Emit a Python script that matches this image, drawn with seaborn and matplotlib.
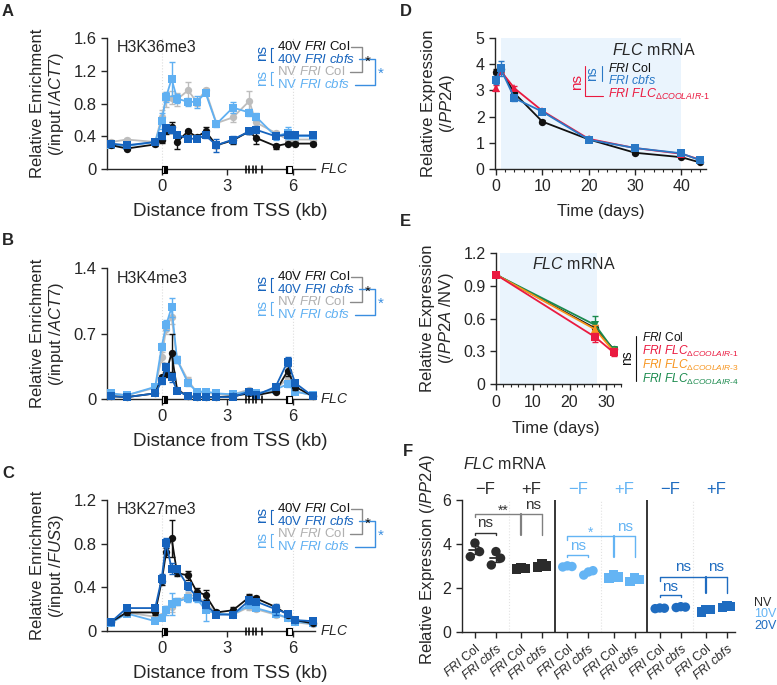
import numpy as np
import pandas as pd
import seaborn as sns
import matplotlib.pyplot as plt
from matplotlib.lines import Line2D
from matplotlib.patches import Rectangle
from matplotlib.ticker import MultipleLocator

sns.set_style('ticks')
plt.rcParams['font.family'] = ['Liberation Sans', 'DejaVu Sans']
plt.rcParams['mathtext.fontset'] = 'custom'
plt.rcParams['mathtext.rm'] = 'Liberation Sans'
plt.rcParams['mathtext.it'] = 'Liberation Sans:italic'
plt.rcParams['mathtext.bf'] = 'Liberation Sans:bold'
plt.rcParams['axes.linewidth'] = 1.0

# ---- data: ChIP panels A-C (distance from TSS, kb) ----
kb = [-2.3, -1.6, -0.3, 0.0, 0.2, 0.45, 0.7, 1.2, 1.6, 2.0, 2.5, 3.25, 4.0, 4.3, 5.2, 5.75, 6.1, 6.9]

# H3K36me3
a_col40 = [0.29, 0.25, 0.30, 0.35, 0.48, 0.51, 0.33, 0.46, 0.39, 0.46, 0.29, 0.35, 0.46, 0.38, 0.28, 0.31, 0.31, 0.31]
a_cbfs40 = [0.31, 0.29, 0.33, 0.40, 0.50, 0.48, 0.42, 0.37, 0.37, 0.41, 0.29, 0.36, 0.46, 0.48, 0.40, 0.42, 0.41, 0.41]
a_colNV = [0.33, 0.36, 0.33, 0.64, 0.85, 0.87, 0.85, 0.96, 0.82, 0.96, 0.56, 0.63, 0.83, 0.57, 0.44, 0.36, 0.36, 0.36]
a_cbfsNV = [0.29, 0.28, 0.33, 0.59, 0.88, 1.10, 0.86, 0.82, 0.82, 0.93, 0.55, 0.75, 0.69, 0.64, 0.40, 0.44, 0.40, 0.40]
a_err_col40 = [0.02, 0.02, 0.02, 0.03, 0.05, 0.07, 0.08, 0.02, 0.02, 0.05, 0.03, 0.04, 0.03, 0.07, 0.03, 0.02, 0.02, 0.02]
a_err_cbfs40 = [0.02, 0.02, 0.02, 0.03, 0.04, 0.04, 0.03, 0.02, 0.02, 0.03, 0.08, 0.04, 0.03, 0.04, 0.03, 0.03, 0.02, 0.02]
a_err_colNV = [0.02, 0.02, 0.02, 0.08, 0.09, 0.08, 0.08, 0.10, 0.05, 0.03, 0.03, 0.06, 0.12, 0.04, 0.03, 0.02, 0.02, 0.02]
a_err_cbfsNV = [0.02, 0.02, 0.02, 0.10, 0.06, 0.21, 0.05, 0.05, 0.07, 0.03, 0.04, 0.07, 0.04, 0.04, 0.04, 0.07, 0.03, 0.02]

# H3K4me3
b_col40 = [0.03, 0.02, 0.06, 0.23, 0.28, 0.49, 0.10, 0.03, 0.02, 0.02, 0.02, 0.03, 0.06, 0.04, 0.08, 0.30, 0.13, 0.03]
b_cbfs40 = [0.03, 0.02, 0.06, 0.19, 0.34, 0.23, 0.09, 0.03, 0.02, 0.02, 0.02, 0.02, 0.08, 0.04, 0.13, 0.40, 0.17, 0.03]
b_colNV = [0.06, 0.04, 0.12, 0.45, 0.75, 0.88, 0.42, 0.20, 0.07, 0.07, 0.05, 0.05, 0.10, 0.06, 0.10, 0.22, 0.08, 0.04]
b_cbfsNV = [0.06, 0.04, 0.13, 0.56, 0.79, 0.98, 0.42, 0.17, 0.08, 0.08, 0.06, 0.05, 0.08, 0.06, 0.10, 0.16, 0.08, 0.04]
b_err_col40 = [0.01, 0.01, 0.01, 0.03, 0.04, 0.20, 0.02, 0.01, 0.01, 0.01, 0.01, 0.01, 0.02, 0.01, 0.02, 0.05, 0.03, 0.01]
b_err_cbfs40 = [0.01, 0.01, 0.01, 0.03, 0.04, 0.05, 0.02, 0.01, 0.01, 0.01, 0.01, 0.01, 0.02, 0.01, 0.02, 0.05, 0.03, 0.01]
b_err_colNV = [0.01, 0.01, 0.02, 0.05, 0.05, 0.08, 0.04, 0.03, 0.01, 0.01, 0.01, 0.01, 0.02, 0.01, 0.02, 0.04, 0.02, 0.01]
b_err_cbfsNV = [0.01, 0.01, 0.02, 0.04, 0.05, 0.10, 0.04, 0.03, 0.01, 0.01, 0.01, 0.01, 0.02, 0.01, 0.02, 0.03, 0.02, 0.01]

# H3K27me3
c_col40 = [0.085, 0.17, 0.17, 0.46, 0.72, 0.85, 0.53, 0.51, 0.36, 0.33, 0.17, 0.19, 0.31, 0.30, 0.22, 0.15, 0.10, 0.07]
c_cbfs40 = [0.085, 0.21, 0.21, 0.48, 0.81, 0.57, 0.57, 0.41, 0.31, 0.24, 0.15, 0.15, 0.28, 0.27, 0.20, 0.16, 0.10, 0.09]
c_colNV = [0.08, 0.17, 0.13, 0.14, 0.20, 0.22, 0.27, 0.33, 0.32, 0.26, 0.16, 0.15, 0.22, 0.20, 0.15, 0.12, 0.08, 0.06]
c_cbfsNV = [0.075, 0.16, 0.09, 0.12, 0.19, 0.25, 0.27, 0.30, 0.30, 0.19, 0.16, 0.15, 0.24, 0.21, 0.16, 0.12, 0.085, 0.07]
c_err_col40 = [0.01, 0.02, 0.02, 0.04, 0.04, 0.17, 0.03, 0.04, 0.03, 0.05, 0.02, 0.03, 0.03, 0.02, 0.02, 0.02, 0.01, 0.01]
c_err_cbfs40 = [0.01, 0.02, 0.02, 0.04, 0.04, 0.05, 0.03, 0.03, 0.03, 0.03, 0.02, 0.02, 0.03, 0.02, 0.05, 0.02, 0.01, 0.01]
c_err_colNV = [0.01, 0.02, 0.02, 0.02, 0.03, 0.05, 0.03, 0.03, 0.03, 0.03, 0.02, 0.02, 0.03, 0.02, 0.02, 0.02, 0.01, 0.01]
c_err_cbfsNV = [0.01, 0.02, 0.02, 0.02, 0.04, 0.10, 0.03, 0.03, 0.03, 0.10, 0.02, 0.02, 0.03, 0.02, 0.02, 0.02, 0.01, 0.01]

# ---- data: D (FLC mRNA time course) ----
d_days = [0, 1, 4, 10, 20, 30, 40, 44]
d_col = [3.71, 3.80, 2.89, 1.81, 1.13, 0.62, 0.45, 0.25]
d_cbfs = [3.40, 3.84, 2.70, 2.19, 1.12, 0.80, 0.60, 0.33]
d_dcool1 = [3.08, 3.75, 3.08, 2.22, 1.15, 0.80, 0.58, 0.36]
d_err_col = [0.10, 0.10, 0.08, 0.05, 0.04, 0.03, 0.03, 0.03]
d_err_cbfs = [0.15, 0.30, 0.10, 0.06, 0.05, 0.04, 0.04, 0.04]
d_err_dcool1 = [0.12, 0.10, 0.08, 0.06, 0.05, 0.04, 0.04, 0.04]

# ---- data: E (normalised to NV) ----
e_days = [0, 27, 32]
e_col = [1.0, 0.51, 0.32]
e_d1 = [1.0, 0.43, 0.29]
e_d3 = [1.0, 0.50, 0.30]
e_d4 = [1.0, 0.54, 0.31]
e_err_col = [0.0, 0.03, 0.02]
e_err_d1 = [0.0, 0.04, 0.03]
e_err_d3 = [0.0, 0.04, 0.03]
e_err_d4 = [0.0, 0.08, 0.03]

# ---- data: F (replicates) ----
f_pos = [0, 1, 2.2, 3.2, 4.4, 5.4, 6.6, 7.6, 8.8, 9.8, 11, 12]
f_vern = ['NV'] * 4 + ['10V'] * 4 + ['20V'] * 4
f_treat = ['-F', '-F', '+F', '+F'] * 3
f_geno = ['Col', 'cbfs'] * 6
f_reps = [[3.42, 4.04, 3.65], [3.04, 3.65, 3.35], [2.85, 2.90, 2.88], [2.95, 3.08, 3.00],
          [2.95, 3.00, 2.97], [2.58, 2.72, 2.78], [2.45, 2.58, 2.50], [2.30, 2.45, 2.38],
          [1.05, 1.08, 1.07], [1.10, 1.14, 1.12], [0.90, 1.00, 1.02], [1.10, 1.18, 1.15]]

BLACK = '#111111'
DBLUE = '#1663bd'
LBLUE = '#60b0f2'
GREY = '#bdbdbd'
D_BLUE = '#2a78c6'
RED = '#ea1a40'
ORANGE = '#f7941d'
GREEN = '#1a8a4d'
SHADE = '#eaf4fd'
HY = '\u2010'

W, H = 777, 685
fig = plt.figure(figsize=(W / 100, H / 100), dpi=100)


def px_axes(l, t, r, b):
    return fig.add_axes([l / W, 1 - b / H, (r - l) / W, (b - t) / H])


def ptext(x, y, s, **kw):
    kw.setdefault('ha', 'left')
    kw.setdefault('va', 'center')
    return fig.text(x / W, 1 - y / H, s, **kw)


def pline(xs, ys, **kw):
    fig.add_artist(Line2D([x / W for x in xs], [1 - y / H for y in ys], **kw))


def coolair(n):
    return '$\\mathit{FRI\\ FLC}_{\\mathit{\\Delta COOLAIR' + HY + n + '}}$'


def series(ax, x, y, err, color, marker, ms, z):
    df = pd.DataFrame({'x': x, 'y': y})
    sns.lineplot(data=df, x='x', y='y', ax=ax, color=color, marker=marker, markersize=ms,
                 markeredgecolor=color, markeredgewidth=0, linewidth=1.3, estimator=None,
                 sort=False, zorder=z, clip_on=False)
    ax.errorbar(x, y, yerr=err, fmt='none', ecolor=color, elinewidth=1, capsize=2.5,
                capthick=1, zorder=z - 0.5, clip_on=False)


def draw_gene(ax, hpx):
    tr = ax.get_xaxis_transform()
    h = 3.5 / hpx
    ax.add_patch(Rectangle((0.0, -h), 0.12, 2 * h, fc='white', ec='black', lw=0.8,
                           transform=tr, clip_on=False, zorder=6))
    ax.add_patch(Rectangle((0.12, -h), 0.14, 2 * h, fc='black', ec='black', lw=0.8,
                           transform=tr, clip_on=False, zorder=6))
    for e in [3.85, 4.0, 4.15, 4.3, 4.6]:
        ax.plot([e, e], [-h, h], color='black', lw=1.1, transform=tr, clip_on=False, zorder=6)
    ax.add_patch(Rectangle((5.72, -h), 0.24, 2 * h, fc='white', ec='black', lw=0.8,
                           transform=tr, clip_on=False, zorder=6))
    ax.add_patch(Rectangle((5.68, -h), 0.06, 2 * h, fc='black', ec='black', lw=0.8,
                           transform=tr, clip_on=False, zorder=6))


def chip_panel(top, label, mark, norm, data, errs, ymax, yticks, yticklabels):
    ax = px_axes(107, top, 315, top + 131)
    ax.set_xlim(-2.5, 7.0)
    ax.set_ylim(0, ymax)
    for v in [0, 6]:
        ax.axvline(v, color='#dddddd', lw=0.8, ls=':', zorder=0)
    styles = [('colNV', GREY, 'o', 5.3, 3), ('cbfsNV', LBLUE, 's', 5.6, 4),
              ('col40', BLACK, 'o', 5.3, 5), ('cbfs40', DBLUE, 's', 5.6, 6)]
    for key, color, marker, ms, z in styles:
        series(ax, kb, data[key], errs[key], color, marker, ms, z)
    ax.set_xticks([0, 3, 6])
    ax.set_yticks(yticks)
    ax.set_yticklabels(yticklabels)
    ax.set_xlabel('')
    ax.set_ylabel('')
    ax.tick_params(labelsize=12, length=4, width=1)
    sns.despine(ax=ax)
    draw_gene(ax, 131)
    ax.text(1.025, 0, r'$\mathit{FLC}$', transform=ax.transAxes, ha='left', va='center', fontsize=10)

    ptext(2, top - 27, label, fontsize=12, fontweight='bold')
    ptext(117, top + 10, mark, fontsize=11.5)
    ptext(230, top + 173, 'Distance from TSS (kb)', ha='center', fontsize=13.5)
    ptext(48, top + 65.5, 'Relative Enrichment\n(/input /$\\mathit{' + norm + '}$)',
          rotation=90, ha='center', fontsize=12, linespacing=1.2)

    # key with significance brackets
    rows = [top + 8.7, top + 21.3, top + 33.7, top + 46.7]
    keys = [r'40V $\mathit{FRI}$ Col', r'40V $\mathit{FRI\ cbfs}$',
            r'NV $\mathit{FRI}$ Col', r'NV $\mathit{FRI\ cbfs}$']
    for y, s, c in zip(rows, keys, [BLACK, DBLUE, '#b0b0b0', LBLUE]):
        ptext(277, y, s, color=c, fontsize=9.5)
    ptext(262, top + 15, 'ns', rotation=90, ha='center', color=DBLUE, fontsize=11)
    ptext(262, top + 40, 'ns', rotation=90, ha='center', color=LBLUE, fontsize=11)
    pline([273, 270.5, 270.5, 273], [top + 10, top + 10, top + 24, top + 24], color=DBLUE, lw=0.8)
    pline([273, 270.5, 270.5, 273], [top + 34, top + 34, top + 47, top + 47], color=LBLUE, lw=0.8)
    pline([351, 362, 362, 350], [rows[0], rows[0], rows[2], rows[2]], color='#8a8a8a', lw=1)
    pline([359, 375, 375, 355], [rows[1], rows[1], rows[3], rows[3]], color='#3a8ee0', lw=1)
    ptext(364.5, top + 24, '*', color=BLACK, fontsize=11)
    ptext(378, top + 36, '*', color='#3a8ee0', fontsize=11)
    return ax


chip_panel(38, 'A', 'H3K36me3', 'ACT7',
           {'col40': a_col40, 'cbfs40': a_cbfs40, 'colNV': a_colNV, 'cbfsNV': a_cbfsNV},
           {'col40': a_err_col40, 'cbfs40': a_err_cbfs40, 'colNV': a_err_colNV, 'cbfsNV': a_err_cbfsNV},
           1.6, [0, 0.4, 0.8, 1.2, 1.6], ['0', '0.4', '0.8', '1.2', '1.6'])
chip_panel(268, 'B', 'H3K4me3', 'ACT7',
           {'col40': b_col40, 'cbfs40': b_cbfs40, 'colNV': b_colNV, 'cbfsNV': b_cbfsNV},
           {'col40': b_err_col40, 'cbfs40': b_err_cbfs40, 'colNV': b_err_colNV, 'cbfsNV': b_err_cbfsNV},
           1.4, [0, 0.7, 1.4], ['0', '0.7', '1.4'])
chip_panel(500, 'C', 'H3K27me3', 'FUS3',
           {'col40': c_col40, 'cbfs40': c_cbfs40, 'colNV': c_colNV, 'cbfsNV': c_cbfsNV},
           {'col40': c_err_col40, 'cbfs40': c_err_cbfs40, 'colNV': c_err_colNV, 'cbfsNV': c_err_cbfsNV},
           1.2, [0, 0.4, 0.8, 1.2], ['0', '0.4', '0.8', '1.2'])

# ---- D ----
ax = px_axes(495, 38, 706, 169)
ax.set_xlim(-0.2, 45.3)
ax.set_ylim(0, 5)
ax.axvspan(1, 40, color=SHADE, lw=0, zorder=0)
series(ax, d_days, d_col, d_err_col, BLACK, 'o', 5.3, 3)
series(ax, d_days, d_dcool1, d_err_dcool1, RED, '^', 5.8, 4)
series(ax, d_days, d_cbfs, d_err_cbfs, D_BLUE, 's', 5.8, 5)
ax.set_xticks([0, 10, 20, 30, 40])
ax.xaxis.set_minor_locator(MultipleLocator(2))
ax.set_yticks([0, 1, 2, 3, 4, 5])
ax.set_xlabel('')
ax.set_ylabel('')
ax.tick_params(labelsize=11.5, length=4, width=1)
ax.tick_params(which='minor', length=2.5, width=0.8)
sns.despine(ax=ax)
ptext(400, 11, 'D', fontsize=12, fontweight='bold')
ptext(601, 212, 'Time (days)', ha='center', fontsize=12)
ptext(439, 103, 'Relative Expression\n(/$\\mathit{PP2A}$)', rotation=90, ha='center',
      fontsize=12, linespacing=1.1)
ptext(612, 50, r'$\mathit{FLC}$ mRNA', fontsize=11.5)
ptext(608, 68.5, r'$\mathit{FRI}$ Col', color=BLACK, fontsize=9)
ptext(608, 80, r'$\mathit{FRI\ cbfs}$', color=D_BLUE, fontsize=9)
ptext(608, 94, coolair('1'), color=RED, fontsize=9)
ptext(592, 74, 'ns', rotation=90, ha='center', color=D_BLUE, fontsize=10)
pline([601.7, 601.7], [66, 81], color=D_BLUE, lw=0.8)
ptext(577, 82, 'ns', rotation=90, ha='center', color=RED, fontsize=11)
pline([585, 585, 603], [66, 96, 96], color=RED, lw=0.8)

# ---- E ----
ax = px_axes(496, 252.7, 621, 384.3)
ax.set_xlim(0, 34)
ax.set_ylim(0, 1.2)
ax.axvspan(1, 27.5, color=SHADE, lw=0, zorder=0)
series(ax, e_days, e_col, e_err_col, BLACK, 'o', 5.3, 3)
series(ax, e_days, e_d4, e_err_d4, GREEN, 'v', 5.8, 4)
series(ax, e_days, e_d3, e_err_d3, ORANGE, '^', 5.8, 5)
series(ax, e_days, e_d1, e_err_d1, RED, 's', 5.8, 6)
ax.set_xticks([0, 10, 20, 30])
ax.xaxis.set_minor_locator(MultipleLocator(2))
ax.set_yticks([0, 0.3, 0.6, 0.9, 1.2])
ax.set_yticklabels(['0', '0.3', '0.6', '0.9', '1.2'])
ax.set_xlabel('')
ax.set_ylabel('')
ax.tick_params(labelsize=11.5, length=4, width=1)
ax.tick_params(which='minor', length=2.5, width=0.8)
sns.despine(ax=ax)
ptext(400, 222, 'E', fontsize=12, fontweight='bold')
ptext(556, 429, 'Time (days)', ha='center', fontsize=12)
ptext(438, 318.5, 'Relative Expression\n(/$\\mathit{PP2A}$ /NV)', rotation=90, ha='center',
      fontsize=12, linespacing=1.1)
ptext(532, 264, r'$\mathit{FLC}$ mRNA', fontsize=11.5)
ptext(627, 358, 'ns', rotation=90, ha='center', color=BLACK, fontsize=10)
pline([636, 636], [336, 381], color=BLACK, lw=0.8)
e_keys = [(r'$\mathit{FRI}$ Col', BLACK), (coolair('1'), RED),
          (coolair('3'), ORANGE), (coolair('4'), GREEN)]
for y, (s, c) in zip([337.5, 351.5, 365.3, 379.1], e_keys):
    ptext(641.7, y, s, color=c, fontsize=8.6)

# ---- F ----
F_PAL = {'NV': '#2b2b2b', '10V': '#64b4f4', '20V': '#1f6cc0'}
rows = []
for p, v, t, reps in zip(f_pos, f_vern, f_treat, f_reps):
    for off, r in zip([-0.22, 0.0, 0.22], reps):
        rows.append({'x': p + off, 'val': r, 'vern': v, 'treat': t})
df_f = pd.DataFrame(rows)

ax = px_axes(461.7, 500, 735.4, 631.7)
ax.set_xlim(-0.63, 12.4)
ax.set_ylim(0, 6)
for v in [1.6, 6.0, 10.4]:
    ax.axvline(v, color='#e2e2e2', lw=0.8, ls=':', zorder=0)
for v in [3.8, 8.2]:
    ax.axvline(v, color='black', lw=1.1, zorder=1)
sns.scatterplot(data=df_f, x='x', y='val', hue='vern', style='treat', palette=F_PAL,
                markers={'-F': 'o', '+F': 's'}, s=46, linewidth=0, legend=False, ax=ax,
                zorder=3)
for p, v, reps in zip(f_pos, f_vern, f_reps):
    m = np.mean(reps)
    se = np.std(reps, ddof=1) / np.sqrt(len(reps))
    ax.plot([p - 0.3, p + 0.3], [m, m], color=F_PAL[v], lw=1.3, zorder=4)
    ax.errorbar(p, m, yerr=se, color=F_PAL[v], capsize=3, elinewidth=1, capthick=1, zorder=4)

ax.set_xticks(f_pos)
ax.set_xticklabels([r'$\mathit{FRI}$ Col' if g == 'Col' else r'$\mathit{FRI\ cbfs}$' for g in f_geno],
                   rotation=40, ha='right', rotation_mode='anchor', fontsize=9)
ax.set_yticks([0, 2, 4, 6])
ax.set_xlabel('')
ax.set_ylabel('')
ax.tick_params(axis='y', labelsize=11.5, length=4, width=1)
ax.tick_params(axis='x', length=4, width=1)
sns.despine(ax=ax)

tr = ax.get_xaxis_transform()
for i in range(0, 12, 2):
    c = (f_pos[i] + f_pos[i + 1]) / 2
    s = '\u2212F' if f_treat[i] == '-F' else '+F'
    ax.text(c, 1.076, s, transform=tr, ha='center', va='center', fontsize=12,
            color=F_PAL[f_vern[i]])


def small_bracket(x0, x1, y, color, ty):
    ax.plot([x0, x0, x1, x1], [y - 0.1, y, y, y - 0.1], color=color, lw=1, clip_on=False)
    ax.text((x0 + x1) / 2, ty, 'ns', ha='center', va='center', fontsize=11, color=color)


def big_bracket(x0, xa, xb, y, ylow, color):
    ax.plot([x0, x0, xb], [y - 0.15, y, y], color=color, lw=1, clip_on=False)
    ax.plot([xa, xa], [y, ylow], color=color, lw=1.6, clip_on=False)
    ax.plot([xb, xb], [y, ylow], color=color, lw=1, clip_on=False)


small_bracket(0, 1, 4.49, '#333333', 4.96)
big_bracket(0, 2.2, 3.2, 5.37, 4.41, '#808080')
ax.text(1.33, 5.5, '**', ha='center', va='center', fontsize=10, color='#333333')
ax.text(2.76, 5.78, 'ns', ha='center', va='center', fontsize=11, color='#333333')

small_bracket(4.4, 5.4, 3.5, F_PAL['10V'], 3.91)
big_bracket(4.4, 6.6, 7.6, 4.35, 3.42, F_PAL['10V'])
ax.text(5.48, 4.5, '*', ha='center', va='center', fontsize=10, color=F_PAL['10V'])
ax.text(7.14, 4.77, 'ns', ha='center', va='center', fontsize=11, color=F_PAL['10V'])

small_bracket(8.8, 9.8, 1.67, F_PAL['20V'], 2.05)
big_bracket(8.8, 11, 12, 2.48, 1.75, F_PAL['20V'])
ax.text(9.92, 2.94, 'ns', ha='center', va='center', fontsize=11, color=F_PAL['20V'])
ax.text(11.5, 2.94, 'ns', ha='center', va='center', fontsize=11, color=F_PAL['20V'])

ptext(403, 452, 'F', fontsize=12, fontweight='bold')
ptext(463, 464, r'$\mathit{FLC}$ mRNA', fontsize=11.5)
ptext(427, 560, r'Relative Expression (/$\mathit{PP2A}$)', rotation=90, ha='center', fontsize=12)
for y, s in zip([602.7, 614.3, 626], ['NV', '10V', '20V']):
    ptext(754, y, s, fontsize=9, color=F_PAL[s])

fig.savefig('out.png', dpi=100)
